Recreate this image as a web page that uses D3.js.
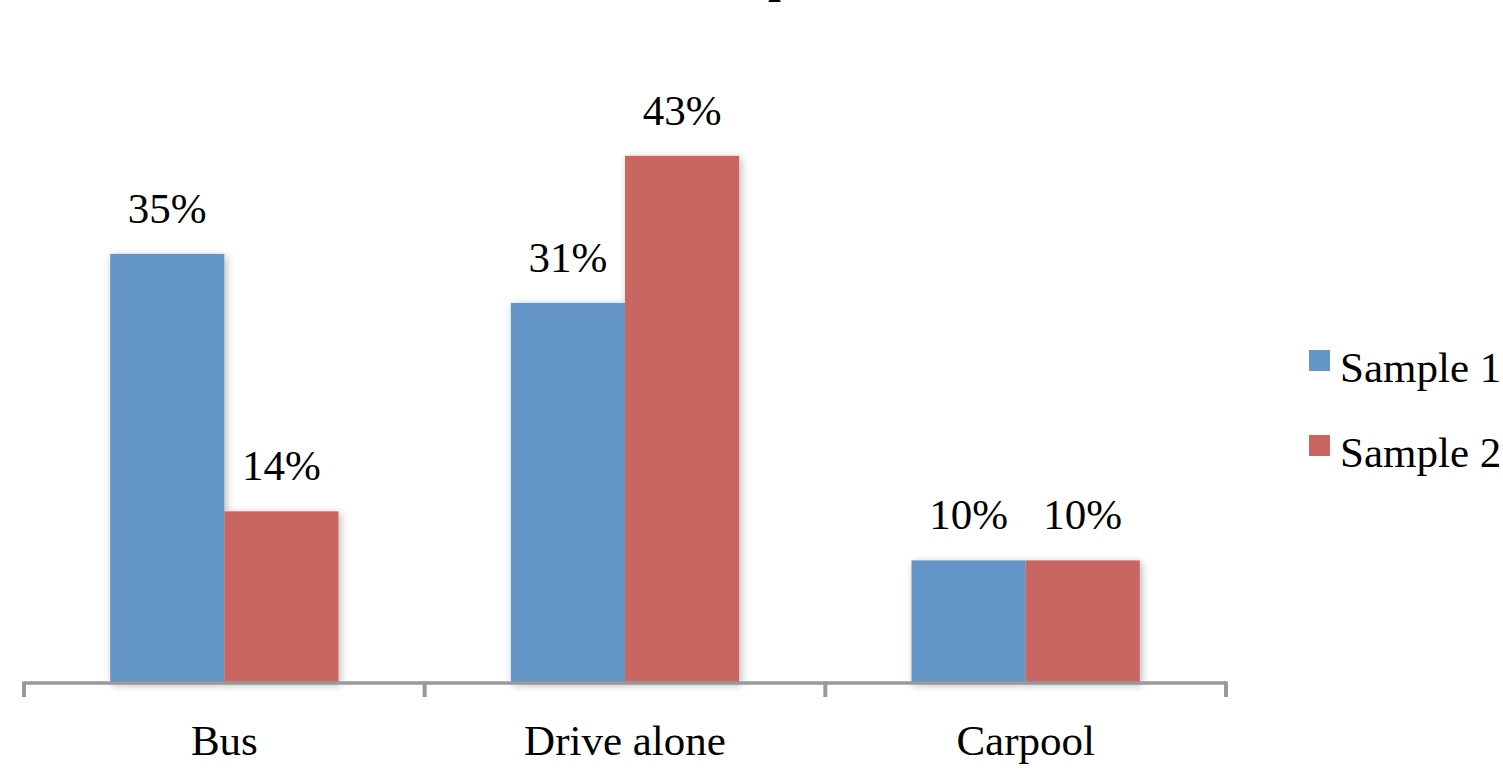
<!DOCTYPE html>
<html>
<head>
<meta charset="utf-8">
<script src="https://cdn.jsdelivr.net/npm/d3@7"></script>
<style>
  html, body { margin: 0; padding: 0; background: #fff; }
  svg { display: block; }
  text { font-family: "Liberation Serif", "Times New Roman", serif; fill: #000; }
</style>
</head>
<body>
<svg id="chart" width="1503" height="771"></svg>
<script>
// Commute mode shares for two samples (percent)
const categories = ["Bus", "Drive alone", "Carpool"];
const seriesNames = ["Sample 1", "Sample 2"];
const sample1 = [35, 31, 10];
const sample2 = [14, 43, 10];
const seriesColors = ["#6396C6", "#C96662"];
const titleText = "Mode of Transportation";

const svg = d3.select("#chart");

const plot = { left: 24, right: 1226, top: 70, bottom: 683 };
const fontSize = 43;

const x0 = d3.scaleBand()
  .domain(categories)
  .range([plot.left, plot.right])
  .paddingInner(0)
  .paddingOuter(0);

const x1 = d3.scaleBand()
  .domain(seriesNames)
  .range([0, x0.bandwidth()])
  .paddingInner(0)
  .paddingOuter(0.755);

const y = d3.scaleLinear()
  .domain([0, 50])
  .range([plot.bottom, plot.top]);

const rows = categories.map((c, i) => ({
  category: c,
  values: [
    { series: seriesNames[0], value: sample1[i], color: seriesColors[0] },
    { series: seriesNames[1], value: sample2[i], color: seriesColors[1] }
  ]
}));

// soft drop shadow behind each bar group
const defs = svg.append("defs");
const f = defs.append("filter").attr("id", "shadow")
  .attr("x", "-20%").attr("y", "-20%").attr("width", "140%").attr("height", "140%");
f.append("feGaussianBlur").attr("in", "SourceAlpha").attr("stdDeviation", 4).attr("result", "b");
f.append("feOffset").attr("in", "b").attr("dx", 2).attr("dy", 2).attr("result", "o");
f.append("feComponentTransfer").attr("in", "o").attr("result", "s")
  .append("feFuncA").attr("type", "linear").attr("slope", 0.28);
const fm = f.append("feMerge");
fm.append("feMergeNode").attr("in", "s");
fm.append("feMergeNode").attr("in", "SourceGraphic");

// title sits above the visible area; only its descender reaches the top edge
const title = svg.append("text")
  .attr("x", 0)
  .attr("y", -8)
  .attr("font-size", 46)
  .attr("font-weight", "bold")
  .text(titleText);
const pIdx = titleText.indexOf("p");
const pX = title.node().getExtentOfChar(pIdx).x;
title.attr("x", 768 - pX);

const groups = svg.append("g").selectAll("g")
  .data(rows)
  .join("g")
  .attr("transform", d => `translate(${x0(d.category)},0)`);

groups.append("g")
  .attr("filter", "url(#shadow)")
  .selectAll("rect")
  .data(d => d.values)
  .join("rect")
  .attr("x", d => x1(d.series))
  .attr("width", x1.bandwidth())
  .attr("y", d => y(d.value))
  .attr("height", d => y(0) - y(d.value))
  .attr("fill", d => d.color);

groups.selectAll("text.val")
  .data(d => d.values)
  .join("text")
  .attr("class", "val")
  .attr("x", d => x1(d.series) + x1.bandwidth() / 2)
  .attr("y", d => y(d.value) - 31)
  .attr("text-anchor", "middle")
  .attr("font-size", fontSize)
  .text(d => d.value + "%");

// category axis
const xAxis = d3.axisBottom(x0).tickSize(0).tickPadding(0);
const axisG = svg.append("g")
  .attr("transform", `translate(0,${plot.bottom})`)
  .call(xAxis);
axisG.select(".domain").remove();
axisG.selectAll(".tick text")
  .attr("y", 72)
  .attr("dy", 0)
  .attr("font-size", fontSize)
  .attr("font-family", "Liberation Serif, Times New Roman, serif");

axisG.append("line")
  .attr("x1", plot.left).attr("x2", plot.right)
  .attr("y1", 0).attr("y2", 0)
  .attr("stroke", "#999").attr("stroke-width", 3.5);

const bounds = categories.map(c => x0(c)).concat([x0(categories[categories.length - 1]) + x0.bandwidth()]);
axisG.selectAll("line.sep")
  .data(bounds)
  .join("line")
  .attr("class", "sep")
  .attr("x1", d => d).attr("x2", d => d)
  .attr("y1", -1.5).attr("y2", 14)
  .attr("stroke", "#999").attr("stroke-width", 4);

// legend
const legend = svg.append("g").attr("transform", "translate(1309,350)");
const li = legend.selectAll("g")
  .data(seriesNames)
  .join("g")
  .attr("transform", (d, i) => `translate(0,${i * 85})`);
li.append("rect")
  .attr("width", 21).attr("height", 21)
  .attr("fill", (d, i) => seriesColors[i]);
li.append("text")
  .attr("x", 31).attr("y", 32)
  .attr("font-size", fontSize)
  .text(d => d);
</script>
</body>
</html>
